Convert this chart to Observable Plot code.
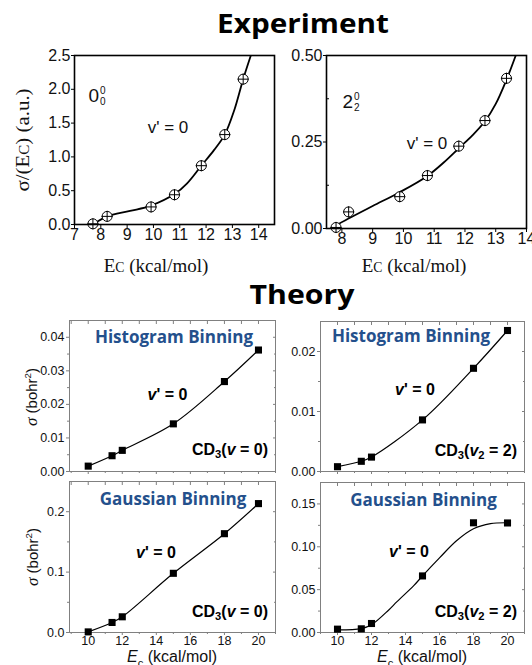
<!DOCTYPE html>
<html><head><meta charset="utf-8">
<script src="https://cdn.jsdelivr.net/npm/d3@7"></script>
<script src="https://cdn.jsdelivr.net/npm/@observablehq/plot@0.6"></script>
<style>
body{margin:0;background:#fff;}
#root{position:relative;width:532px;height:665px;overflow:hidden;background:#fff;}
#root svg{position:absolute;overflow:visible;}
.t{position:absolute;white-space:nowrap;line-height:1;}
</style></head><body><div id="root"></div><script>
// ---------- data ----------
// Experiment, 0^0_0 band
const expE00 = [7.7, 8.24, 9.91, 10.8, 11.82, 12.71, 13.41];
const expS00 = [0.01, 0.12, 0.26, 0.44, 0.87, 1.33, 2.15];
const fitE00 = [7.7, 8.24, 9.11, 9.91, 10.8, 11.28, 11.82, 12.3, 12.71, 13.07, 13.41, 13.7];
const fitS00 = [0.0, 0.12, 0.2, 0.28, 0.45, 0.61, 0.87, 1.10, 1.33, 1.69, 2.15, 2.5];
// Experiment, 2^0_2 band
const expE22 = [7.81, 8.22, 9.88, 10.78, 11.8, 12.65, 13.35];
const expS22 = [0.003, 0.048, 0.092, 0.153, 0.238, 0.312, 0.434];
const fitE22 = [7.64, 8.2, 9.0, 9.88, 10.78, 11.3, 11.8, 12.25, 12.65, 13.0, 13.35, 13.65];
const fitS22 = [0.0, 0.028, 0.065, 0.105, 0.152, 0.19, 0.232, 0.27, 0.31, 0.36, 0.43, 0.5];
// Theory
const thE = [10, 11.4, 12, 15, 18, 20];
const histV0 = [0.0016, 0.0047, 0.0063, 0.0142, 0.0268, 0.0362];
const histV2 = [0.0008, 0.0017, 0.0024, 0.0086, 0.0172, 0.0235];
const gaussV0 = [0.001, 0.0166, 0.026, 0.098, 0.1636, 0.2134];
const gaussV2 = [0.0039, 0.0043, 0.0105, 0.066, 0.128, 0.1278];
const gaussV2FitE = [10, 11.4, 12, 13, 13.5, 14.5, 15, 16, 17, 18, 19, 20];
const gaussV2FitS = [0.003, 0.0045, 0.009, 0.026, 0.036, 0.055, 0.066, 0.087, 0.107, 0.121, 0.127, 0.128];
// tick labels
const xTicks00 = [7, 8, 9, 10, 11, 12, 13, 14];
const yTicks00 = [0, 0.5, 1.0, 1.5, 2.0, 2.5];
const xTicks22 = [8, 9, 10, 11, 12, 13, 14];
const yTicks22 = [0, 0.25, 0.5];
const yMinor22 = [0.125, 0.375];
const thXMajor = [10, 12, 14, 16, 18, 20];
const thXMinor = [9, 11, 13, 15, 17, 19, 21];
const yTicksHV0 = [0, 0.01, 0.02, 0.03, 0.04];
const yMinorHV0 = [0.005, 0.015, 0.025, 0.035];
const yTicksHV2 = [0, 0.01, 0.02];
const yMinorHV2 = [0.005, 0.015];
const yTicksGV0 = [0, 0.1, 0.2];
const yMinorGV0 = [0.05, 0.15];
const yTicksGV2 = [0, 0.05, 0.10, 0.15];
const yMinorGV2 = [0.025, 0.075, 0.125];

const zip = (xs, ys) => xs.map((x, i) => ({x, y: ys[i]}));
const root = document.getElementById("root");

function panel({frame: [x0, x1, y0, y1], m: [mt, mr, mb, ml], x, y, marks, font}) {
  const chart = Plot.plot({
    width: x1 - x0 + ml + mr, height: y1 - y0 + mt + mb,
    marginTop: mt, marginRight: mr, marginBottom: mb, marginLeft: ml,
    x: {domain: x}, y: {domain: y},
    style: {fontFamily: "'Liberation Sans', Arial, sans-serif", fontSize: font + "px", color: "#111", background: "transparent"},
    marks
  });
  chart.style.left = (x0 - ml) + "px";
  chart.style.top = (y0 - mt) + "px";
  root.appendChild(chart);
}
const none = () => "";

// ---------- Experiment panels ----------
function expMarks(pts, fit, xt, yt, yfmt, yminor) {
  return [
    Plot.axisX({ticks: xt, tickFormat: "d", tickSize: 4, tickPadding: 0, label: null, stroke: "#000"}),
    Plot.axisY({ticks: yt, tickFormat: d3.format(yfmt), tickSize: 3, tickPadding: 1, label: null, stroke: "#000"}),
    ...(yminor ? [Plot.axisY({ticks: yminor, tickFormat: none, tickSize: -3, label: null, stroke: "#000"})] : []),
    Plot.line(fit, {x: "x", y: "y", curve: "catmull-rom", stroke: "#000", strokeWidth: 1.8, clip: true}),
    Plot.dot(pts, {x: "x", y: "y", symbol: "circle", r: 5, stroke: "#000", strokeWidth: 1, fill: "white"}),
    Plot.dot(pts, {x: "x", y: "y", symbol: "plus", r: 3.7, stroke: "#000", strokeWidth: 1}),
    Plot.frame({stroke: "#000", strokeWidth: 1.6})
  ];
}
panel({frame: [74, 274, 55, 224], m: [8, 10, 24, 40], x: [7, 14.6], y: [0, 2.5], font: 16,
  marks: expMarks(zip(expE00, expS00), zip(fitE00, fitS00), xTicks00, yTicks00, ".1f", null)});
panel({frame: [326, 526, 55, 228], m: [8, 10, 24, 48], x: [7.5, 14], y: [0, 0.5], font: 16,
  marks: expMarks(zip(expE22, expS22), zip(fitE22, fitS22), xTicks22, yTicks22, ".2f", yMinor22)});

// ---------- Theory panels ----------
const gray = "#808080";
function thMarks(pts, fit, yt, ym, yfmt, xlabels) {
  return [
    Plot.axisX({ticks: thXMajor, tickFormat: xlabels ? "d" : none, tickSize: 3, tickPadding: 1, label: null, stroke: gray}),
    Plot.axisX({ticks: thXMinor, tickFormat: none, tickSize: 2, label: null, stroke: gray}),
    Plot.axisX({anchor: "top", ticks: thXMajor.concat(thXMinor), tickFormat: none, tickSize: -3, label: null, stroke: gray}),
    Plot.axisY({ticks: yt, tickFormat: d3.format(yfmt), tickSize: 3, tickPadding: 2, label: null, stroke: gray}),
    Plot.axisY({ticks: ym, tickFormat: none, tickSize: 2, label: null, stroke: gray}),
    Plot.axisY({anchor: "right", ticks: yt, tickFormat: none, tickSize: -3, label: null, stroke: gray}),
    Plot.axisY({anchor: "right", ticks: ym, tickFormat: none, tickSize: -2, label: null, stroke: gray}),
    Plot.frame({stroke: gray, strokeWidth: 1}),
    Plot.line(fit, {x: "x", y: "y", curve: "catmull-rom", stroke: "#000", strokeWidth: 1.2}),
    Plot.dot(pts, {x: "x", y: "y", symbol: "square", r: 4, fill: "#000"})
  ];
}
panel({frame: [69, 275, 320, 471], m: [4, 6, 10, 44], x: [8.9, 21], y: [0, 0.045], font: 12.5,
  marks: thMarks(zip(thE, histV0), zip(thE, histV0), yTicksHV0, yMinorHV0, ".2f", false)});
panel({frame: [320, 524, 321, 471], m: [4, 6, 10, 44], x: [9, 21], y: [0, 0.025], font: 12.5,
  marks: thMarks(zip(thE, histV2), zip(thE, histV2), yTicksHV2, yMinorHV2, ".2f", false)});
panel({frame: [69, 275, 481, 632], m: [4, 6, 20, 44], x: [8.9, 21], y: [0, 0.25], font: 12.5,
  marks: thMarks(zip(thE, gaussV0), zip(thE, gaussV0), yTicksGV0, yMinorGV0, ".1f", true)});
panel({frame: [320, 524, 482, 632], m: [4, 6, 20, 44], x: [9, 21], y: [0, 0.175], font: 12.5,
  marks: thMarks(zip(thE, gaussV2), zip(gaussV2FitE, gaussV2FitS), yTicksGV2, yMinorGV2, ".2f", true)});

// ---------- text ----------
function txt(html, x, y, css, anchor = "middle", extra = "") {
  const d = document.createElement("div");
  d.className = "t";
  d.innerHTML = html;
  const tx = anchor === "end" ? "-100%" : anchor === "start" ? "0" : "-50%";
  d.style.cssText = `left:${x}px;top:${y}px;transform:translate(${tx},-50%) ${extra};${css}`;
  root.appendChild(d);
}
const title = "font-family:'Open Sans',sans-serif;font-weight:700;font-size:27px;color:#000;";
txt("Experiment", 303, 22, title, "middle", "scaleX(1.1)");
txt("Theory", 301.5, 293, title, "middle", "scaleX(1.12)");

const serif = "font-family:'Liberation Serif','Times New Roman',serif;font-size:19px;color:#111;";
const ec = "E<span style='font-size:0.72em'>C</span>";
txt(`σ/(${ec}) (a.u.)`, 22, 140, serif, "middle", "rotate(-90deg) scaleX(1.1)");
txt(`${ec} (kcal/mol)`, 156, 265, serif);
txt(`${ec} (kcal/mol)`, 414, 265, serif);

const sans = "font-family:'Liberation Sans',Arial,sans-serif;color:#111;";
const stack = (a, b) => `<span style="display:inline-flex;flex-direction:column;font-size:10px;line-height:1.05;vertical-align:middle;margin-left:1px;position:relative;top:-1px"><span>${a}</span><span>${b}</span></span>`;
txt(`<span style="font-size:19px">0</span>${stack("0", "0")}`, 97, 97, sans);
txt(`<span style="font-size:19px">2</span>${stack("0", "2")}`, 351, 103, sans);
txt("v' = 0", 168, 127, sans + "font-size:17px;");
txt("v' = 0", 427, 143, sans + "font-size:17px;");

const blue = "font-family:'Open Sans',sans-serif;font-weight:700;font-size:17px;color:#24508c;";
txt("Histogram Binning", 174, 336, blue);
txt("Histogram Binning", 411, 335, blue);
txt("Gaussian Binning", 173, 498, blue);
txt("Gaussian Binning", 423.5, 499, blue);

const bold = sans + "font-weight:700;font-size:16px;color:#000;";
const vp = "<i>v</i>' = 0";
txt(vp, 167.5, 395, bold);
txt(vp, 415, 390, bold);
txt(vp, 156, 553, bold);
txt(vp, 409, 552, bold);
const cd = (inner) => `CD<sub style="font-size:0.7em;vertical-align:-0.3em">3</sub>(${inner})`;
txt(cd("<i>v</i> = 0"), 268, 451, bold, "end");
txt(cd("<i>v</i><sub style='font-size:0.7em;vertical-align:-0.3em'>2</sub> = 2"), 517, 452, bold, "end");
txt(cd("<i>v</i> = 0"), 268, 613, bold, "end");
txt(cd("<i>v</i><sub style='font-size:0.7em;vertical-align:-0.3em'>2</sub> = 2"), 517, 613, bold, "end");

const ylab = `<span style="font-family:'Liberation Serif',serif;font-style:italic;font-size:17px">σ</span> (bohr<sup style="font-size:0.65em;vertical-align:0.6em">2</sup>)`;
txt(ylab, 31, 397, sans + "font-size:15px;", "middle", "rotate(-90deg)");
txt(ylab, 32, 557, sans + "font-size:15px;", "middle", "rotate(-90deg)");
const xlab = `<i>E</i><sub style="font-size:0.7em;vertical-align:-0.45em">c</sub> (kcal/mol)`;
txt(xlab, 172, 659, sans + "font-size:16px;");
txt(xlab, 422, 659, sans + "font-size:16px;");
</script></body></html>
